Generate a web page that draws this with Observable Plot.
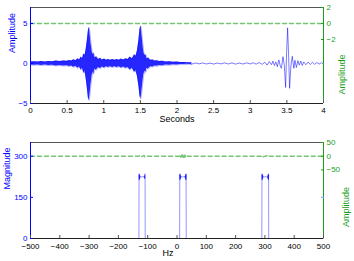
<!DOCTYPE html>
<html><head><meta charset="utf-8">
<script src="https://cdn.jsdelivr.net/npm/d3@7"></script>
<script src="https://cdn.jsdelivr.net/npm/@observablehq/plot@0.6"></script>
<style>
body{margin:0;background:#fff;}
#chart{width:354px;height:261px;font-family:"Liberation Sans",Arial,sans-serif;}
#chart svg{display:block;}
</style></head><body><div id="chart"></div>
<script>
// ---------- Top panel: signal in time ----------
const timeTicks = [0, 0.5, 1, 1.5, 2, 2.5, 3, 3.5, 4];
const ampTicksLeft = [-5, 0, 5];
const ampTicksRightTop = [2, 0, -2];
const leftDomainTop = [-5, 7];
const rightDomainTop = [-10, 2];
// envelope of the dense oscillating part (seconds, upper, lower)
const envT = [0.00,0.05,0.10,0.15,0.20,0.25,0.30,0.35,0.40,0.45,0.50,0.53,0.56,0.59,0.62,0.645,0.67,0.69,0.71,0.727,0.745,0.76,0.775,0.79,0.80,0.81,0.825,0.84,0.85,0.863,0.88,0.90,0.93,0.955,0.98,1.01,1.035,1.06,1.09,1.12,1.15,1.18,1.21,1.24,1.27,1.30,1.33,1.36,1.39,1.42,1.44,1.46,1.48,1.495,1.505,1.515,1.53,1.545,1.56,1.575,1.59,1.61,1.64,1.67,1.70,1.73,1.76,1.80,1.85,1.90,1.95,2.00,2.05,2.10,2.15,2.20];
const envHi = [0.18,0.22,0.18,0.24,0.20,0.26,0.22,0.30,0.25,0.32,0.28,0.38,0.30,0.48,0.35,0.60,0.45,0.80,0.60,1.20,1.00,1.80,2.80,4.10,4.50,4.00,2.60,1.60,1.10,1.30,0.70,0.85,0.50,0.65,0.45,0.55,0.40,0.50,0.40,0.50,0.40,0.50,0.40,0.55,0.45,0.60,0.50,0.80,0.60,1.10,0.90,1.60,2.90,4.30,4.70,4.20,2.80,1.50,1.00,1.10,0.60,0.70,0.40,0.45,0.30,0.35,0.25,0.28,0.20,0.22,0.16,0.18,0.13,0.14,0.10,0.08];
const envLo = [-0.18,-0.22,-0.18,-0.24,-0.20,-0.26,-0.22,-0.30,-0.25,-0.32,-0.28,-0.38,-0.30,-0.48,-0.35,-0.60,-0.45,-0.80,-0.60,-1.20,-1.00,-1.90,-3.00,-4.30,-4.60,-4.10,-2.70,-1.60,-1.10,-1.30,-0.70,-0.85,-0.50,-0.65,-0.45,-0.55,-0.40,-0.50,-0.40,-0.50,-0.40,-0.50,-0.40,-0.55,-0.45,-0.60,-0.50,-0.80,-0.60,-1.10,-0.90,-1.60,-2.80,-4.10,-4.40,-4.00,-2.70,-1.50,-1.00,-1.10,-0.60,-0.70,-0.40,-0.45,-0.30,-0.35,-0.25,-0.28,-0.20,-0.22,-0.16,-0.18,-0.13,-0.14,-0.10,-0.08];
// sparse tail with the sinc-like pulse near 3.5 s
const tailT = [2.15,2.2,2.25,2.3,2.35,2.4,2.45,2.5,2.55,2.6,2.65,2.7,2.75,2.8,2.85,2.9,2.95,3.0,3.04,3.08,3.12,3.16,3.2,3.23,3.26,3.29,3.31,3.33,3.35,3.37,3.39,3.41,3.425,3.447,3.465,3.483,3.497,3.51,3.523,3.537,3.555,3.574,3.595,3.61,3.63,3.65,3.67,3.69,3.71,3.73,3.76,3.79,3.82,3.85,3.88,3.91,3.94,3.97,4.0];
const tailV = [0.05,-0.08,0.06,-0.05,0.07,-0.06,0.05,-0.07,0.06,-0.05,0.08,-0.06,0.07,-0.08,0.06,-0.07,0.08,-0.06,0.10,-0.08,0.12,-0.10,0.15,-0.20,0.25,-0.15,0.30,-0.25,0.20,-0.40,0.45,-0.30,-0.60,0.85,-0.20,-3.00,1.50,4.45,1.30,-3.10,-0.30,0.90,-0.60,0.40,-0.50,0.35,-0.20,0.30,-0.25,0.20,-0.15,0.18,-0.12,0.15,-0.10,0.12,-0.08,0.10,-0.05];
// second (green, right axis) series
const greenTopT = [0, 4];
const greenTopV = [0, 0];

// ---------- Bottom panel: spectrum ----------
const hzTicks = [-500, -400, -300, -200, -100, 0, 100, 200, 300, 400, 500];
const magTicks = [0, 150, 300];
const ampTicksRightBottom = [50, 0, -50];
const leftDomainBottom = [0, 350];
const rightDomainBottom = [-300, 50];
const specF = [-500,-130,-129.5,-129,-128.5,-128,-127.3,-126.5,-124,-121,-118,-115,-112.5,-111.5,-110.8,-110,-109.5,-109,-108.5,
  9,9.5,10,10.5,11,11.7,12.5,15,18,21,24,27,28,28.8,29.5,30,30.5,31,31.5,
  289.5,290,290.5,291,291.5,292.2,293,296,299,302,305,308,309.5,310.3,311,311.5,312,312.5,313,500];
const specM = [0,0,236,213,234,217,230,221,227,224,226,224,227,221,230,217,234,236,0,
  0,236,213,234,217,230,221,227,224,226,224,227,221,230,217,234,213,236,0,
  0,236,213,234,217,230,221,227,224,226,224,227,221,230,217,234,213,236,0,0];
const greenBotF = [-500,-130,-128,-126,-112,-110,-108,9,11,13,15,17,19,21,23,25,27,29,31,289,291,293,309,311,313,500];
const greenBotV = [0,0,2,-2,2,-2,0,0,4,-4,4,-4,4,-4,4,-4,4,-4,0,0,2,-2,2,-2,0,0];

const BLUE = "#0000ff", GREEN = "#1a9e1a", FONT = '"Liberation Sans", Arial, sans-serif';
const lin = (a, b) => v => b[0] + (v - a[0]) * (b[1] - b[0]) / (a[1] - a[0]);
const fmt = v => { v = Math.round(v * 1000) / 1000; return (v < 0 ? "\u2212" : "") + Math.abs(v); };

function panel({height, marginTop, marginBottom, xDomain, xTicks, xPad, yDomain, yTicks, rDomain, rTicks, xLabel, xLabelDx, xLabelDy, yLabel, yLabelDx, yLabelDy, rLabelDx, rLabelDy, marks, mirror}) {
  const r2l = lin(rDomain, yDomain), l2r = lin(yDomain, rDomain);
  return Plot.plot({
    width: 354, height, marginLeft: 30, marginRight: 31, marginTop, marginBottom,
    style: {fontFamily: FONT, fontSize: "8px", background: "white", overflow: "visible"},
    x: {domain: xDomain}, y: {domain: yDomain},
    marks: [
      ...marks(r2l),
      Plot.ruleY([yDomain[1]], {stroke: "#555", strokeWidth: 1}),
      Plot.ruleY([yDomain[0]], {stroke: "#222", strokeWidth: 1}),
      Plot.ruleX([xDomain[0]], {stroke: BLUE, strokeWidth: 1}),
      Plot.ruleX([xDomain[1]], {stroke: GREEN, strokeWidth: 1}),
      Plot.axisX(xTicks, {anchor: "bottom", tickSize: -3, tickPadding: xPad, stroke: "#555", fill: "#000", label: null, tickFormat: fmt}),
      Plot.axisY(yTicks, {anchor: "left", tickSize: -3, tickPadding: 6, stroke: BLUE, fill: BLUE, label: null, tickFormat: fmt}),
      ...(mirror ? [Plot.axisY(mirror, {anchor: "right", tickSize: -3, stroke: "#8899ff", tickFormat: () => "", label: null})] : []),
      Plot.axisY(rTicks.map(r2l), {anchor: "right", tickSize: -3, tickPadding: 6, stroke: GREEN, fill: GREEN, label: null, tickFormat: d => fmt(l2r(d))}),
      Plot.text([xLabel], {text: d => d, frameAnchor: "bottom", dx: xLabelDx, dy: xLabelDy, fontSize: 9, fill: "#000"}),
      Plot.text([yLabel], {text: d => d, frameAnchor: "left", dx: yLabelDx, dy: yLabelDy, rotate: -90, fontSize: 9, fill: BLUE}),
      Plot.text(["Amplitude"], {text: d => d, frameAnchor: "right", dx: rLabelDx, dy: rLabelDy, rotate: -90, fontSize: 9, fill: GREEN})
    ]
  });
}

const env = envT.map((t, i) => ({t, hi: envHi[i], lo: envLo[i]}));
const tail = tailT.map((t, i) => ({t, v: tailV[i]}));
const greenTop = greenTopT.map((t, i) => ({t, v: greenTopV[i]}));
const spec = specF.map((f, i) => ({f, m: specM[i]}));
const greenBot = greenBotF.map((f, i) => ({f, v: greenBotV[i]}));

const topPlot = panel({
  height: 130, marginTop: 7, marginBottom: 27,
  xDomain: [0, 4], xTicks: timeTicks, xPad: 6.5, yDomain: leftDomainTop, yTicks: ampTicksLeft,
  rDomain: rightDomainTop, rTicks: ampTicksRightTop,
  xLabel: "Seconds", xLabelDx: 0, xLabelDy: 18.5, yLabel: "Amplitude", yLabelDx: -18.5, yLabelDy: -2.5, rLabelDx: 18.5, rLabelDy: -1,
  marks: r2l => [
    Plot.areaY(env, {x: "t", y1: "lo", y2: "hi", fill: BLUE, fillOpacity: 0.85, curve: "linear"}),
    Plot.line(env, {x: "t", y: "hi", stroke: BLUE, strokeWidth: 0.5, strokeOpacity: 0.6}),
    Plot.line(env, {x: "t", y: "lo", stroke: BLUE, strokeWidth: 0.5, strokeOpacity: 0.6}),
    Plot.line(tail, {x: "t", y: "v", stroke: BLUE, strokeWidth: 0.7, strokeOpacity: 0.75}),
    Plot.line(greenTop, {x: "t", y: d => r2l(d.v), stroke: GREEN, strokeOpacity: 0.6, strokeDasharray: "4,3"})
  ]
});

const botPlot = panel({
  height: 131, marginTop: 12, marginBottom: 23,
  xDomain: [-500, 500], xTicks: hzTicks, xPad: 8, yDomain: leftDomainBottom, yTicks: magTicks,
  rDomain: rightDomainBottom, rTicks: ampTicksRightBottom,
  xLabel: "Hz", xLabelDx: -9, xLabelDy: 17, yLabel: "Magnitude", yLabelDx: -23.3, yLabelDy: -1, rLabelDx: 23, rLabelDy: -3.5,
  mirror: [150],
  marks: r2l => [
    Plot.line(spec, {x: "f", y: "m", stroke: BLUE, strokeWidth: 0.6, strokeOpacity: 0.7}),
    Plot.line(greenBot, {x: "f", y: d => r2l(d.v), stroke: GREEN, strokeOpacity: 0.6, strokeDasharray: "4,3"})
  ]
});

const root = document.getElementById("chart");
root.appendChild(topPlot);
root.appendChild(botPlot);
</script></body></html>
